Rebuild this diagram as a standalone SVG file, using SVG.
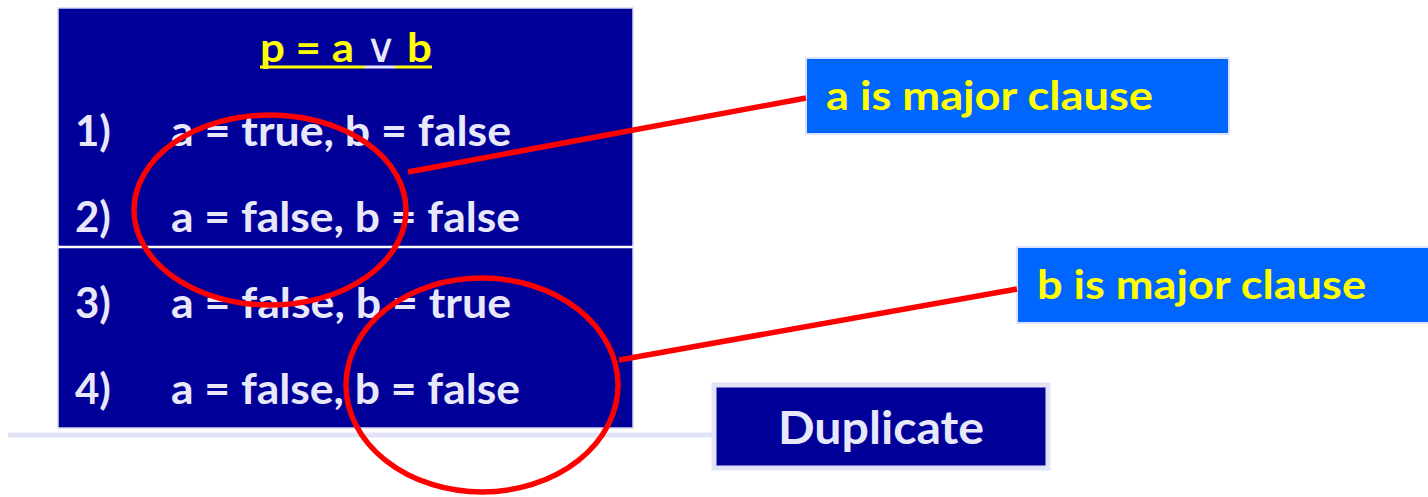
<svg xmlns="http://www.w3.org/2000/svg" width="1428" height="497" viewBox="0 0 1428 497">
<style>
.t{font-family:Lato,"Open Sans","Liberation Sans",sans-serif;font-weight:bold;}
.row{fill:#e8e8fa;font-size:42px;}
.lbl{fill:#ffff00;font-size:41px;}
.red{fill:none;stroke:#ff0000;stroke-width:5.5;}
</style>
<rect width="1428" height="497" fill="#ffffff"/>
<line x1="8" y1="435" x2="716" y2="435" stroke="#e3e3f7" stroke-width="5"/>
<g id="table">
<rect x="58" y="8" width="575" height="420" fill="#000099" stroke="#d8d8f0" stroke-width="1.5"/>
<line x1="58" y1="247" x2="633" y2="247" stroke="#ffffff" stroke-width="2.5"/>
<text class="t" x="260" y="62" font-size="40" fill="#ffff00" textLength="172" lengthAdjust="spacingAndGlyphs">p = a <tspan fill="#e8e8fa" font-weight="normal">∨</tspan> b</text>
<line x1="260" y1="67" x2="365" y2="67" stroke="#ffff00" stroke-width="3"/>
<line x1="365" y1="67" x2="395" y2="67" stroke="#e8e8fa" stroke-width="3"/>
<line x1="395" y1="67" x2="432" y2="67" stroke="#ffff00" stroke-width="3"/>
<text class="t row" x="75" y="146">1)</text>
<text class="t row" x="171" y="146" textLength="340" lengthAdjust="spacingAndGlyphs">a = true, b = false</text>
<text class="t row" x="75" y="232">2)</text>
<text class="t row" x="171" y="232" textLength="349" lengthAdjust="spacingAndGlyphs">a = false, b = false</text>
<text class="t row" x="75" y="318">3)</text>
<text class="t row" x="171" y="318" textLength="340" lengthAdjust="spacingAndGlyphs">a = false, b = true</text>
<text class="t row" x="75" y="404">4)</text>
<text class="t row" x="171" y="404" textLength="349" lengthAdjust="spacingAndGlyphs">a = false, b = false</text>
</g>
<g id="label-a">
<rect x="806" y="58" width="423" height="76" fill="#0066ff" stroke="#dde3fb" stroke-width="2"/>
<text class="t lbl" x="826" y="110" textLength="327" lengthAdjust="spacingAndGlyphs">a is major clause</text>
</g>
<g id="label-b">
<rect x="1017" y="247" width="420" height="76" fill="#0066ff" stroke="#dde3fb" stroke-width="2"/>
<text class="t lbl" x="1037" y="299" textLength="329" lengthAdjust="spacingAndGlyphs">b is major clause</text>
</g>
<g id="duplicate">
<rect x="714" y="385" width="334" height="83" fill="#000099" stroke="#e3e3f7" stroke-width="5"/>
<text class="t" x="881" y="444" font-size="45" fill="#e8e8fa" text-anchor="middle" textLength="206" lengthAdjust="spacingAndGlyphs">Duplicate</text>
</g>
<g id="connectors">
<ellipse class="red" cx="270" cy="210" rx="136" ry="95"/>
<ellipse class="red" cx="482" cy="385" rx="136" ry="107"/>
<line class="red" x1="408" y1="172" x2="806" y2="98"/>
<line class="red" x1="619" y1="360" x2="1017" y2="289"/>
</g>
</svg>
